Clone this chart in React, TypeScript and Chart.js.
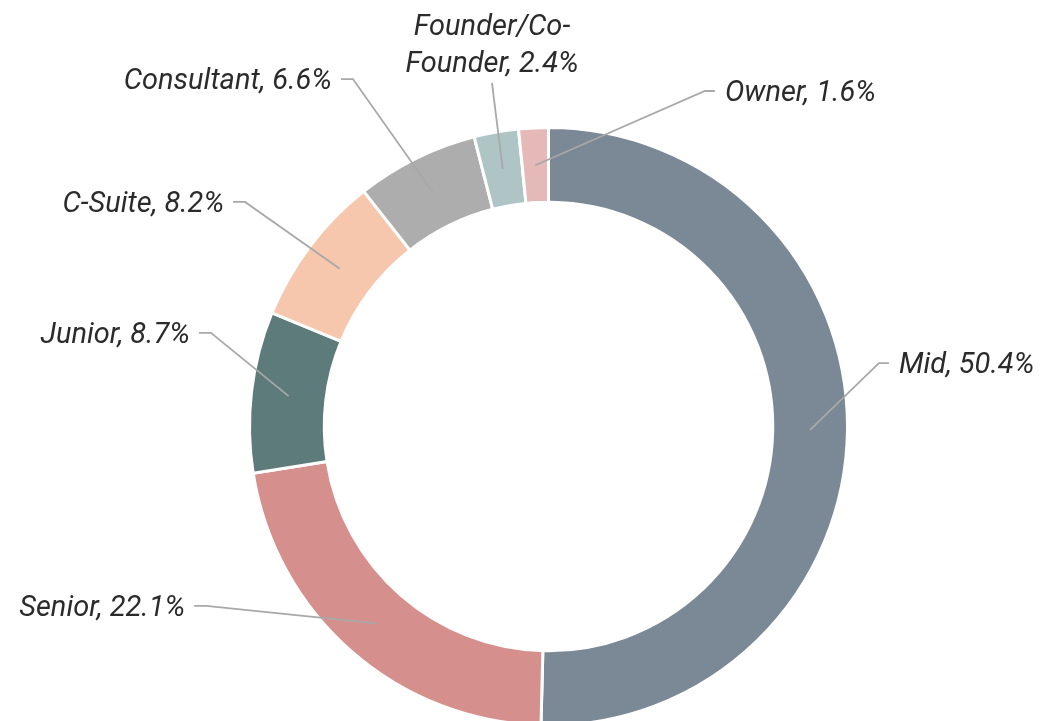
import React, { useEffect, useRef } from "react";
import { Chart, registerables } from "chart.js";

Chart.register(...registerables);

// ---- data ----
const categories = ["Mid", "Senior", "Junior", "C-Suite", "Consultant", "Founder/Co-Founder", "Owner"];
const shares = [50.4, 22.1, 8.7, 8.2, 6.6, 2.4, 1.6];
const sliceColors = ["#7b8896", "#d58f8c", "#5c7b7a", "#f6c7ad", "#adadad", "#aec4c5", "#e5b9b8"];

// ---- label layout (elbow offsets in units of the outer radius, relative to the centre) ----
const labelLayout = [
  { dx: 1.105, dy: -0.212, side: "right" },
  { dx: -1.145, dy: 0.6, side: "left" },
  { dx: -1.129, dy: -0.313, side: "left" },
  { dx: -1.015, dy: -0.751, side: "left" },
  { dx: -0.654, dy: -1.162, side: "left" },
  { dx: -0.189, dy: -1.149, side: "top" },
  { dx: 0.523, dy: -1.122, side: "right" },
];

const FONT = "italic 400 29px Roboto";
const TEXT_COLOR = "#2b2b2b";
const LINE_COLOR = "#a8a8a8";

function wrapText(ctx: CanvasRenderingContext2D, text: string, maxWidth: number): string[] {
  const tokens = text.split(/(?<=[-\s])/);
  const lines: string[] = [];
  let cur = "";
  for (const t of tokens) {
    const test = cur + t;
    if (cur && ctx.measureText(test.trimEnd()).width > maxWidth) {
      lines.push(cur.trimEnd());
      cur = t;
    } else {
      cur = test;
    }
  }
  if (cur) lines.push(cur.trimEnd());
  return lines;
}

const outsideLabels = {
  id: "outsideLabels",
  afterDatasetsDraw(chart: any) {
    const ctx: CanvasRenderingContext2D = chart.ctx;
    const meta = chart.getDatasetMeta(0);
    const values: number[] = chart.data.datasets[0].data;
    ctx.save();
    ctx.font = FONT;
    meta.data.forEach((arc: any, i: number) => {
      const p = arc.getProps(["x", "y", "startAngle", "endAngle", "innerRadius", "outerRadius"], true);
      const a = (p.startAngle + p.endAngle) / 2;
      const midR = (p.innerRadius + p.outerRadius) / 2;
      const sx = p.x + Math.cos(a) * midR;
      const sy = p.y + Math.sin(a) * midR;
      const lay = labelLayout[i];
      const ex = p.x + lay.dx * p.outerRadius;
      const ey = p.y + lay.dy * p.outerRadius;
      const text = `${chart.data.labels[i]}, ${values[i]}%`;

      ctx.strokeStyle = LINE_COLOR;
      ctx.lineWidth = 1.8;
      ctx.beginPath();
      ctx.moveTo(sx, sy);
      ctx.lineTo(ex, ey);
      let hx = ex;
      if (lay.side === "left") hx = ex - 12;
      if (lay.side === "right") hx = ex + 10;
      if (hx !== ex) ctx.lineTo(hx, ey);
      ctx.stroke();

      ctx.fillStyle = TEXT_COLOR;
      ctx.textBaseline = "alphabetic";
      if (lay.side === "left") {
        ctx.textAlign = "right";
        ctx.fillText(text, hx - 9, ey + 10);
      } else if (lay.side === "right") {
        ctx.textAlign = "left";
        ctx.fillText(text, hx + 10, ey + 10);
      } else {
        ctx.textAlign = "center";
        const lines = wrapText(ctx, text, 195);
        const lh = 37;
        const lastBase = ey - 11;
        lines.forEach((ln, k) => {
          ctx.fillText(ln, ex, lastBase - (lines.length - 1 - k) * lh);
        });
      }
    });
    ctx.restore();
  },
};

export default function App() {
  const ref = useRef<HTMLCanvasElement | null>(null);
  useEffect(() => {
    let chart: Chart | null = null;
    let cancelled = false;
    const make = () => {
      if (cancelled || !ref.current) return;
      chart = new Chart(ref.current, {
        type: "doughnut",
        data: {
          labels: categories,
          datasets: [
            {
              data: shares,
              backgroundColor: sliceColors,
              borderColor: "#ffffff",
              borderWidth: 3,
              hoverOffset: 0,
            },
          ],
        },
        options: {
          responsive: false,
          animation: false,
          cutout: "75%",
          layout: { padding: { left: 248, top: 126, right: 191, bottom: 0 } },
          plugins: {
            legend: { display: false },
            tooltip: { enabled: false },
          },
        },
        plugins: [outsideLabels],
      });
    };
    if ((document as any).fonts && (document as any).fonts.load) {
      (document as any).fonts.load(FONT).then(make, make);
    } else {
      make();
    }
    return () => {
      cancelled = true;
      if (chart) chart.destroy();
    };
  }, []);

  return (
    <div
      style={{
        position: "fixed",
        left: 0,
        top: 0,
        width: 1040,
        height: 721,
        overflow: "hidden",
        background: "#ffffff",
      }}
    >
      <canvas ref={ref} width={1040} height={727} style={{ display: "block", width: 1040, height: 727 }} />
    </div>
  );
}
